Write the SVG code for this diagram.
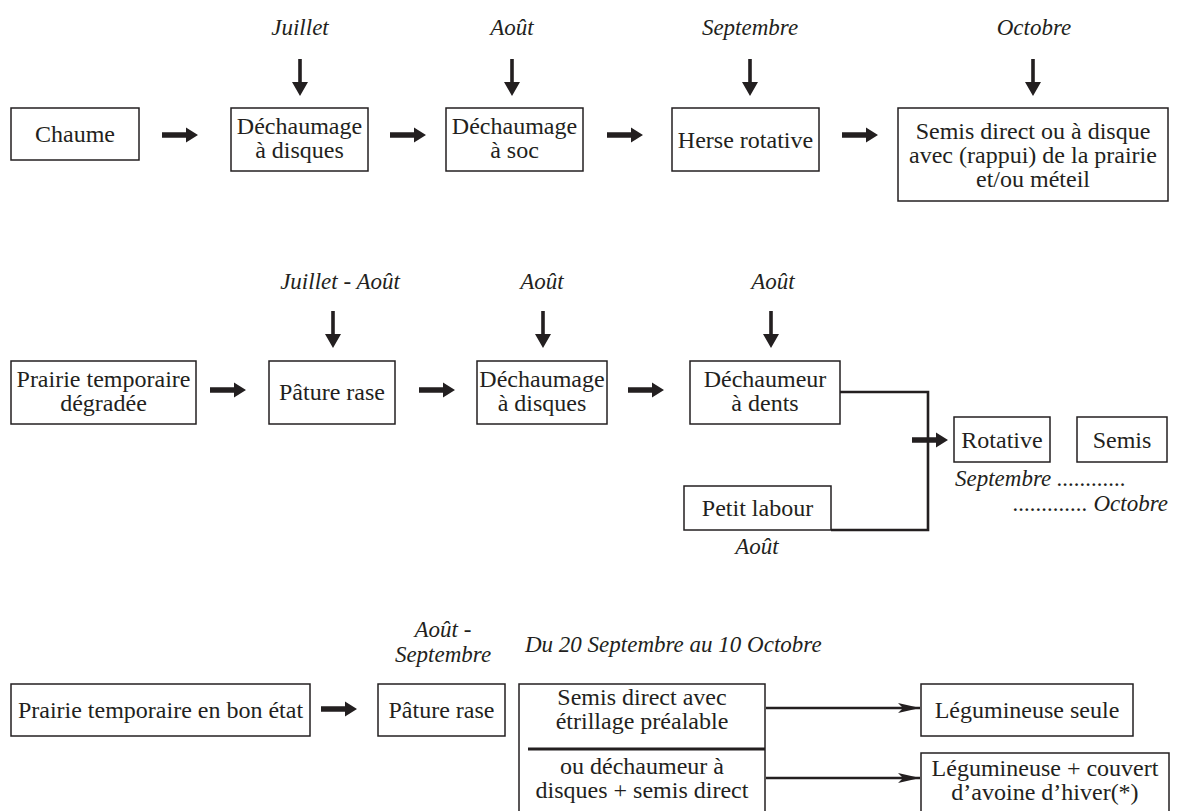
<svg xmlns="http://www.w3.org/2000/svg" xmlns:xlink="http://www.w3.org/1999/xlink" width="1184" height="811" viewBox="0 0 1184 811">
<style>
  .box{fill:#fff;stroke:#231f20;stroke-width:1.5}
  .t{font-family:"Liberation Serif","Times New Roman",serif;font-size:24px;fill:#231f20;text-anchor:middle}
  .lab{font-family:"Liberation Serif","Times New Roman",serif;font-size:23px;font-style:italic;fill:#231f20;text-anchor:middle}
  .bold{fill:#231f20}
  .ln{fill:none;stroke:#231f20;stroke-width:2.6}
</style>
<defs>
  <path id="ra" d="M0,-2.8 H24 V-7.5 L36,0 L24,7.5 V2.8 H0 Z"/>
  <path id="da" d="M-1.8,0 V23 H-8 L0,37 L8,23 H1.8 V0 Z"/>
  <marker id="thin" markerWidth="24" markerHeight="12" refX="22" refY="6" orient="auto" markerUnits="userSpaceOnUse">
    <path d="M0,1 L22,6 L0,11 L5,6 Z" fill="#231f20"/>
  </marker>
</defs>
<rect width="1184" height="811" fill="#fff"/>

<g id="labels">
  <text class="lab" x="300" y="35">Juillet</text>
  <text class="lab" x="512" y="35">Août</text>
  <text class="lab" x="750" y="35">Septembre</text>
  <text class="lab" x="1034" y="35">Octobre</text>
  <text class="lab" x="340" y="289">Juillet - Août</text>
  <text class="lab" x="542" y="289">Août</text>
  <text class="lab" x="773" y="289">Août</text>
  <text class="lab" x="757" y="554">Août</text>
  <text class="lab" x="955" y="486" style="text-anchor:start">Septembre ............</text>
  <text class="lab" x="1168" y="511" style="text-anchor:end">............. Octobre</text>
  <text class="lab" x="443" y="637">Août -</text>
  <text class="lab" x="443" y="662">Septembre</text>
  <text class="lab" x="525" y="652" style="text-anchor:start">Du 20 Septembre au 10 Octobre</text>
</g>

<g id="connectors">
  <g class="bold">
    <use xlink:href="#da" x="300" y="59"/>
    <use xlink:href="#da" x="512" y="59"/>
    <use xlink:href="#da" x="750" y="59"/>
    <use xlink:href="#da" x="1033" y="59"/>
    <use xlink:href="#ra" x="162" y="135"/>
    <use xlink:href="#ra" x="390" y="135"/>
    <use xlink:href="#ra" x="607" y="135"/>
    <use xlink:href="#ra" x="842" y="135"/>
    <use xlink:href="#da" x="333" y="311"/>
    <use xlink:href="#da" x="543" y="311"/>
    <use xlink:href="#da" x="771" y="311"/>
    <use xlink:href="#ra" x="210" y="390"/>
    <use xlink:href="#ra" x="419" y="390"/>
    <use xlink:href="#ra" x="628" y="390"/>
    <use xlink:href="#ra" x="912" y="440"/>
    <use xlink:href="#ra" x="321" y="709"/>
  </g>
  <path class="ln" d="M840,392 H928 V530 H831"/>
  <line class="ln" x1="766" y1="708" x2="920" y2="708" marker-end="url(#thin)"/>
  <line class="ln" x1="766" y1="778" x2="920" y2="778" marker-end="url(#thin)"/>
</g>

<g id="n-chaume"><rect class="box" x="11" y="108" width="128" height="52"/><text class="t" x="75" y="142">Chaume</text></g>
<g id="n-dech-disques-1"><rect class="box" x="231" y="108" width="137" height="63"/><text class="t" x="299.5" y="134">Déchaumage</text><text class="t" x="299.5" y="158">à disques</text></g>
<g id="n-dech-soc"><rect class="box" x="446" y="108" width="137" height="63"/><text class="t" x="514.5" y="134">Déchaumage</text><text class="t" x="514.5" y="158">à soc</text></g>
<g id="n-herse"><rect class="box" x="672" y="108" width="147" height="63"/><text class="t" x="745.5" y="148">Herse rotative</text></g>
<g id="n-semis-direct"><rect class="box" x="898" y="108" width="270" height="93"/><text class="t" x="1033" y="139">Semis direct ou à disque</text><text class="t" x="1033" y="163">avec (rappui) de la prairie</text><text class="t" x="1033" y="187">et/ou méteil</text></g>

<g id="n-prairie-degradee"><rect class="box" x="11" y="361" width="185" height="63"/><text class="t" x="103.5" y="387">Prairie temporaire</text><text class="t" x="103.5" y="411">dégradée</text></g>
<g id="n-pature-1"><rect class="box" x="269" y="361" width="126" height="63"/><text class="t" x="332" y="400">Pâture rase</text></g>
<g id="n-dech-disques-2"><rect class="box" x="477" y="361" width="130" height="63"/><text class="t" x="542" y="387">Déchaumage</text><text class="t" x="542" y="411">à disques</text></g>
<g id="n-dechaumeur"><rect class="box" x="690" y="361" width="150" height="63"/><text class="t" x="765" y="387">Déchaumeur</text><text class="t" x="765" y="411">à dents</text></g>
<g id="n-petit-labour"><rect class="box" x="684" y="486" width="147" height="44"/><text class="t" x="757.5" y="516">Petit labour</text></g>
<g id="n-rotative"><rect class="box" x="954" y="417" width="96" height="45"/><text class="t" x="1002" y="448">Rotative</text></g>
<g id="n-semis"><rect class="box" x="1077" y="417" width="90" height="45"/><text class="t" x="1122" y="448">Semis</text></g>

<g id="n-prairie-bon"><rect class="box" x="11" y="684" width="299" height="52"/><text class="t" x="160.5" y="718">Prairie temporaire en bon état</text></g>
<g id="n-pature-2"><rect class="box" x="378" y="684" width="127" height="52"/><text class="t" x="441.5" y="718">Pâture rase</text></g>
<g id="n-semis-options"><rect class="box" x="519" y="684" width="246" height="140"/><line x1="528" y1="749" x2="765" y2="749" stroke="#231f20" stroke-width="3"/><text class="t" x="642" y="705">Semis direct avec</text><text class="t" x="642" y="729">étrillage préalable</text><text class="t" x="642" y="774">ou déchaumeur à</text><text class="t" x="642" y="798">disques + semis direct</text></g>
<g id="n-leg-seule"><rect class="box" x="921" y="684" width="212" height="52"/><text class="t" x="1027" y="718">Légumineuse seule</text></g>
<g id="n-leg-couvert"><rect class="box" x="921" y="753" width="248" height="70"/><text class="t" x="1045" y="776">Légumineuse + couvert</text><text class="t" x="1045" y="800">d’avoine d’hiver(*)</text></g>
</svg>
